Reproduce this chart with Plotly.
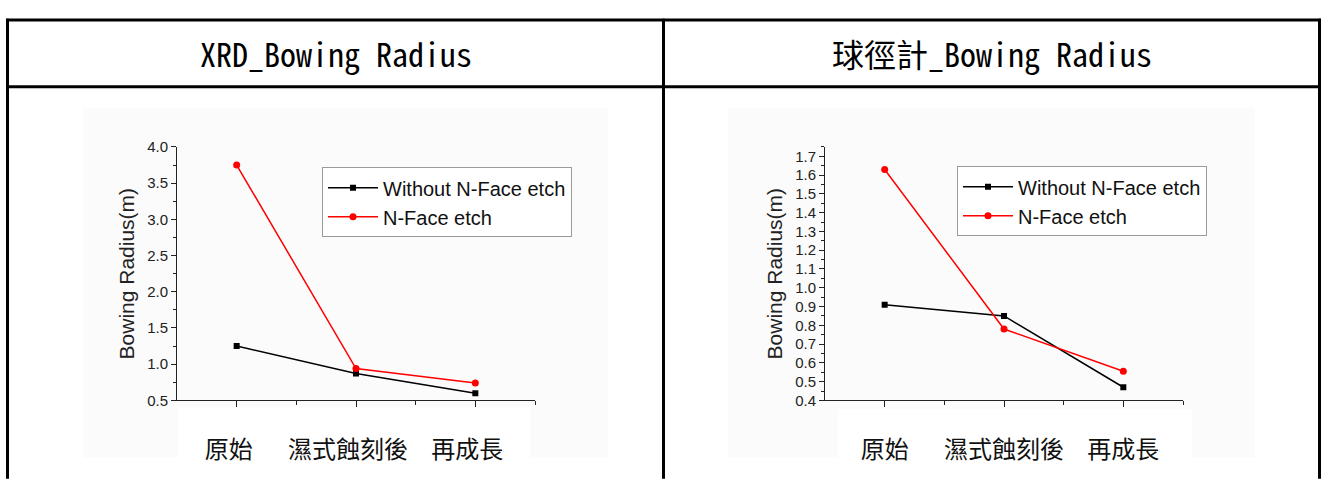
import plotly.graph_objects as go

# ---- data -------------------------------------------------------------
stages = ["原始", "濕式蝕刻後", "再成長"]
stage_pos = [1, 2, 3]

panel_titles = ["XRD_Bowing Radius", "球徑計_Bowing Radius"]
series_names = ["Without N-Face etch", "N-Face etch"]

xrd_without = [1.25, 0.87, 0.60]
xrd_etch = [3.75, 0.94, 0.74]

sph_without = [0.91, 0.85, 0.47]
sph_etch = [1.63, 0.78, 0.555]

y_title = "Bowing Radius(m)"

# ---- canvas helpers ---------------------------------------------------
W, H = 1322, 482


def px(x):
    return x / W


def py(y):
    return 1 - y / H


LATIN = "Liberation Sans, Arial, sans-serif"
CJK = "Noto Sans CJK TC, Noto Sans CJK JP, sans-serif"
TITLE_FONT = "Noto Sans Mono CJK TC, Noto Sans CJK TC, monospace"

fig = go.Figure()

panels = [
    dict(x="x", y="y", leg="legend", without=xrd_without, etch=xrd_etch),
    dict(x="x2", y="y2", leg="legend2", without=sph_without, etch=sph_etch),
]

for p in panels:
    fig.add_trace(go.Scatter(
        x=stage_pos, y=p["without"], name=series_names[0],
        mode="lines+markers", xaxis=p["x"], yaxis=p["y"], legend=p["leg"],
        line=dict(color="#000000", width=1.5),
        marker=dict(symbol="square", size=6, color="#000000"),
    ))
    fig.add_trace(go.Scatter(
        x=stage_pos, y=p["etch"], name=series_names[1],
        mode="lines+markers", xaxis=p["x"], yaxis=p["y"], legend=p["leg"],
        line=dict(color="#ff0000", width=1.5),
        marker=dict(symbol="circle", size=7, color="#ff0000"),
    ))

axis_col = "#222222"


def xaxis_style(x0, x1, shift, anchor):
    return dict(
        domain=[px(x0), px(x1)], range=[0.5, 3.5], anchor=anchor,
        tickmode="array", tickvals=stage_pos, ticktext=stages,
        ticks="outside", ticklen=6, tickwidth=1, tickcolor=axis_col,
        minor=dict(tickmode="array", tickvals=[1.5, 2.5, 3.5], ticks="outside",
                   ticklen=4, tickwidth=1, tickcolor=axis_col),
        showline=True, linecolor=axis_col, linewidth=1,
        showgrid=False, zeroline=False,
        tickfont=dict(family=CJK, size=24, color="#111111"),
        ticklabelstandoff=22, ticklabelshift=shift,
        fixedrange=True,
    )


def yaxis_style(rng, dtick, mdtick, anchor):
    return dict(
        domain=[py(405.7), py(143)], range=rng,
        tick0=rng[0], dtick=dtick, tickformat=".1f",
        ticks="outside", ticklen=5, tickwidth=1, tickcolor=axis_col,
        minor=dict(tick0=rng[0], dtick=mdtick, ticks="outside",
                   ticklen=3, tickwidth=1, tickcolor=axis_col),
        showline=True, linecolor=axis_col, linewidth=1,
        showgrid=False, zeroline=False,
        tickfont=dict(family=LATIN, size=15, color="#222222"),
        title=dict(text=y_title, font=dict(family=LATIN, size=21, color="#222222"),
                   standoff=6),
        anchor=anchor, fixedrange=True,
    )


legend_style = dict(
    xanchor="left", yanchor="top",
    font=dict(family=LATIN, size=20, color="#111111"),
    bgcolor="#ffffff", bordercolor="#9a9a9a", borderwidth=1,
    itemwidth=50, tracegroupgap=0,
)

fig.update_layout(
    width=W, height=H,
    margin=dict(l=0, r=0, t=0, b=0),
    paper_bgcolor="#ffffff", plot_bgcolor="rgba(0,0,0,0)",
    xaxis=xaxis_style(177, 535, -8, "y"),
    yaxis=yaxis_style([0.5, 4.0], 0.5, 0.25, "x"),
    xaxis2=xaxis_style(825, 1183, 0, "y2"),
    yaxis2=yaxis_style([0.4, 1.75], 0.1, 0.05, "x2"),
    legend=dict(x=px(322), y=py(164), **legend_style),
    legend2=dict(x=px(957), y=py(163), **legend_style),
)

shapes = []
# light backdrop behind each chart, with a white band under the category labels
for (x0, y0, x1, y1) in [(83, 102, 608, 465), (728, 102, 1255, 465)]:
    shapes.append(dict(type="rect", xref="paper", yref="paper", layer="below",
                       x0=px(x0), x1=px(x1), y0=py(y1), y1=py(y0),
                       fillcolor="#fbfbfb", line=dict(width=0)))
for (x0, y0, x1, y1) in [(178, 413, 530, 465), (838, 415, 1192, 465)]:
    shapes.append(dict(type="rect", xref="paper", yref="paper", layer="below",
                       x0=px(x0), x1=px(x1), y0=py(y1), y1=py(y0),
                       fillcolor="#ffffff", line=dict(width=0)))

# table grid
border = dict(color="#000000", width=3)
for yy in [11.5, 80.5]:
    shapes.append(dict(type="line", xref="paper", yref="paper",
                       x0=px(6), x1=px(1321), y0=py(yy), y1=py(yy), line=border))
for xx in [7.5, 663.5, 1319.5]:
    shapes.append(dict(type="line", xref="paper", yref="paper",
                       x0=px(xx), x1=px(xx), y0=py(10), y1=py(H + 5), line=border))

annotations = []
for text, cx in zip(panel_titles, [335.5, 991.5]):
    annotations.append(dict(text=text, xref="paper", yref="paper",
                            x=px(cx), y=py(46), xanchor="center", yanchor="middle",
                            showarrow=False,
                            font=dict(family=TITLE_FONT, size=32, color="#000000")))

fig.update_layout(shapes=shapes, annotations=annotations)

fig.write_html("out.html")
